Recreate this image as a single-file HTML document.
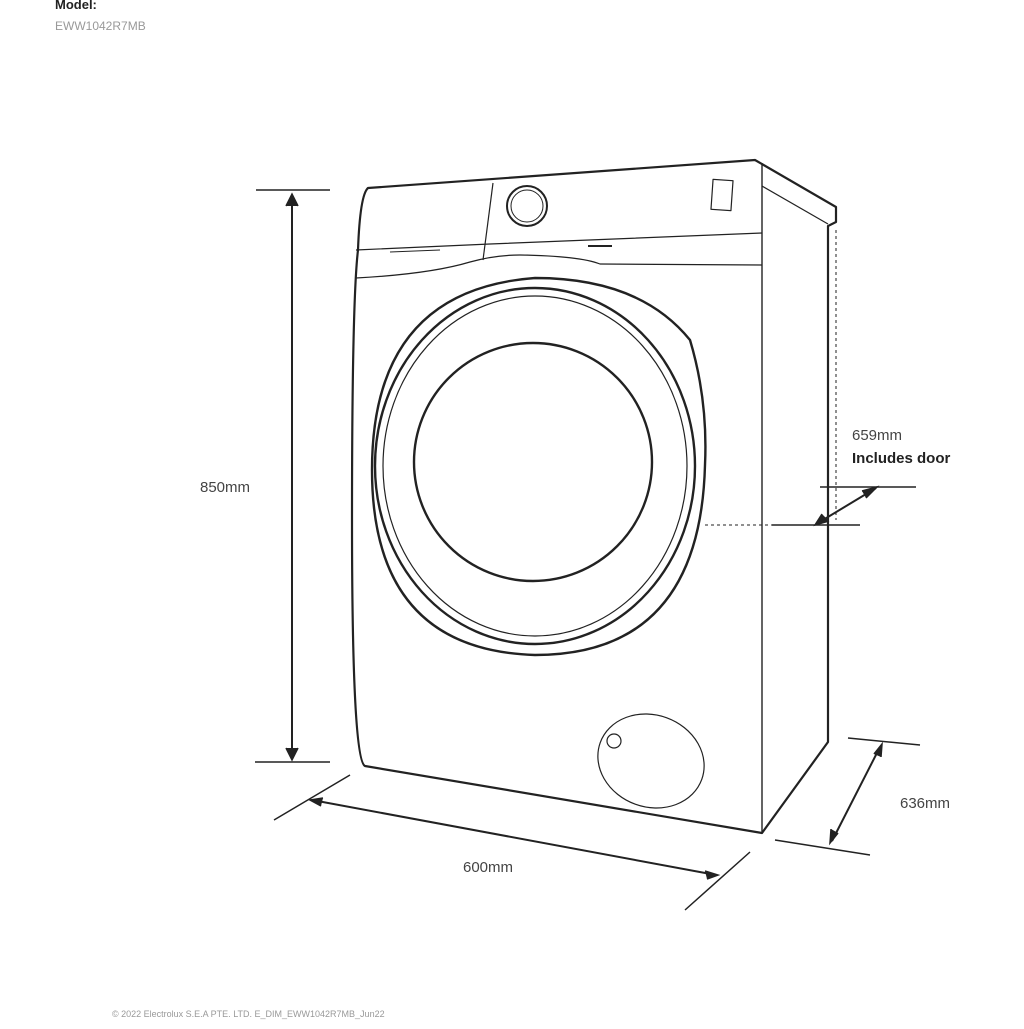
<!DOCTYPE html>
<html><head><style>
body{margin:0;background:#fff;width:1024px;height:1024px;overflow:hidden;font-family:"Liberation Sans",sans-serif}
</style></head><body>
<svg width="1024" height="1024" viewBox="0 0 1024 1024" xmlns="http://www.w3.org/2000/svg" font-family="Liberation Sans, sans-serif">
<text x="55" y="9" font-size="13" font-weight="bold" fill="#222">Model:</text>
<text x="55" y="30" font-size="12" fill="#999">EWW1042R7MB</text>
<g fill="none" stroke="#222" stroke-width="2.2" stroke-linejoin="round">
<path d="M368,188 L755,160 L836,207 L836,222 L828,226 L828,742 L762,833 L365,766 Q352,760 352,520 Q352,300 358,250 Q360,195 368,188 Z"/>
<path d="M762,163 L762,833" stroke-width="1.4"/>
<path d="M762,186 L828,224" stroke-width="1.2"/>
<path d="M356,250 L490,244 L762,233" stroke-width="1.2"/>
<path d="M356,278 Q430,274 470,262 Q495,255 520,255 Q580,256 600,264 L762,265" stroke-width="1.2"/>
<path d="M493,183 L483,260" stroke-width="1.2"/>
<path d="M390,252 L440,250" stroke-width="1"/>
<circle cx="527" cy="206" r="20" stroke-width="2"/>
<circle cx="527" cy="206" r="16" stroke-width="1"/>
<rect x="712" y="180" width="20" height="30" stroke-width="1.2" transform="rotate(4 722 195)"/>
<path d="M588,246 L612,246" stroke-width="2"/>
<path d="M372,470 Q372,290 535,278 Q640,278 690,340 Q708,400 705,465 Q700,655 535,655 Q372,650 372,470 Z" stroke-width="2.4"/>
<ellipse cx="535" cy="466" rx="160" ry="178" stroke-width="2.4"/>
<ellipse cx="535" cy="466" rx="152" ry="170" stroke-width="1.2"/>
<circle cx="533" cy="462" r="119" stroke-width="2.4"/>
<ellipse cx="651" cy="761" rx="54" ry="46" stroke-width="1.2" transform="rotate(20 651 761)"/>
<circle cx="614" cy="741" r="7" stroke-width="1.2"/>
</g>
<g stroke="#222" stroke-width="1.5" fill="none">
<path d="M256,190 L330,190 M255,762 L330,762"/>
<path d="M292,198 L292,756" stroke-width="2"/>
<path d="M286,206 L292,194 L298,206 M286,748 L292,760 L298,748" fill="#222"/>
<path d="M274,820 L350,775 M685,910 L750,852"/>
<path d="M312,800 L716,875" stroke-width="2"/>
<path d="M323,798 L310,800 L321,806 M705,871 L718,875 L707,879" fill="#222"/>
<path d="M848,738 L920,745 M775,840 L870,855"/>
<path d="M880,747 L832,841" stroke-width="2"/>
<path d="M874,754 L882,744 L881,757 M831,829 L830,843 L838,833" fill="#222"/>
<path d="M820,487 L916,487 M772,525 L860,525"/>
<path d="M818,523 L876,488" stroke-width="2"/>
<path d="M862,491 L877,487 L866,498 M822,514 L815,525 L829,521" fill="#222"/>
<path d="M705,525 L815,525 M836,230 L836,520" stroke-dasharray="3,3" stroke-width="1"/>
</g>
<g font-size="15" fill="#444">
<text x="200" y="492">850mm</text>
<text x="463" y="872">600mm</text>
<text x="900" y="808">636mm</text>
<text x="852" y="440">659mm</text>
<text x="852" y="463" font-weight="bold" fill="#222">Includes door</text>
</g>
<text x="112" y="1017" font-size="9" fill="#999">© 2022 Electrolux S.E.A PTE. LTD. E_DIM_EWW1042R7MB_Jun22</text>
</svg>
</body></html>
